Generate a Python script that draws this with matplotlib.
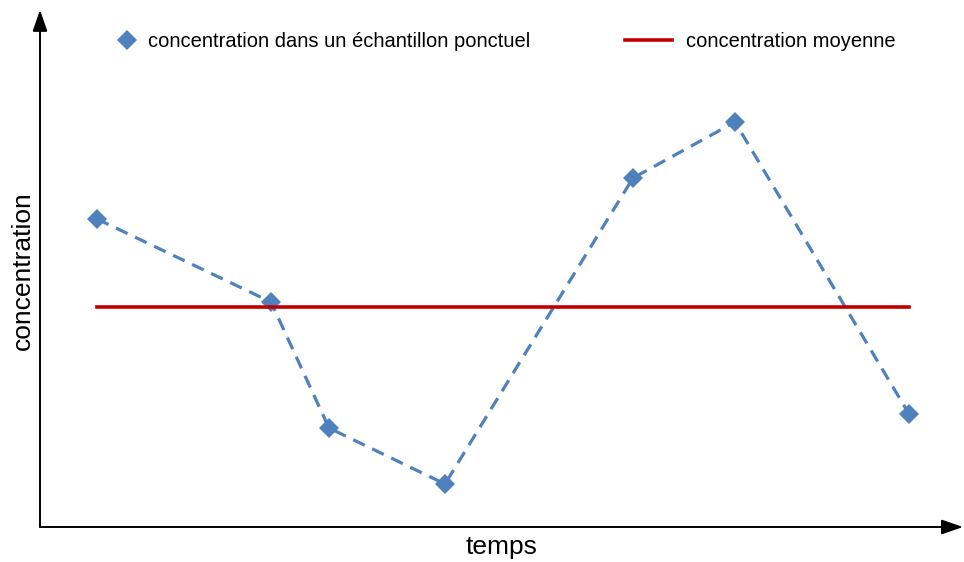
import numpy as np
from matplotlib import pyplot as plt
from matplotlib.lines import Line2D

# sample times and concentrations (arbitrary units)
temps = [0.57, 2.31, 2.89, 4.05, 5.93, 6.95, 8.69]
concentration = [3.08, 2.25, 0.99, 0.43, 3.49, 4.05, 1.13]
moyenne = 2.20
t_debut, t_fin = 0.57, 8.69

plt.rcParams['font.family'] = ['Liberation Sans', 'DejaVu Sans']

bleu = "#4F81BD"
rouge = "#C00000"

fig = plt.figure(figsize=(9.64, 5.62), dpi=100)
ax = fig.add_axes([40 / 964, 35 / 562, 923 / 964, 512 / 562])
ax.set_xlim(0, 9.23)
ax.set_ylim(0, 5.12)

ax.plot(temps, concentration, linestyle="--", color=bleu, lw=2.3,
        dashes=(4, 2.6), marker="D", ms=10.5, markeredgewidth=0)
ax.plot([t_debut, t_fin], [moyenne, moyenne], color=rouge, lw=2.6)

for s in ax.spines.values():
    s.set_visible(False)
ax.set_xticks([])
ax.set_yticks([])

# axes drawn as arrows
fleche = dict(arrowstyle="-|>,head_length=1.3,head_width=0.45",
              color="black", lw=1.4, shrinkA=0, shrinkB=0)
ax.annotate("", xy=(1.0, 0), xytext=(0, 0), xycoords="axes fraction",
            arrowprops=fleche)
ax.annotate("", xy=(0, 1.01), xytext=(0, 0), xycoords="axes fraction",
            arrowprops=fleche)

ax.set_xlabel("temps", fontsize=19, labelpad=6)
ax.set_ylabel("concentration", fontsize=19, labelpad=4)

# two legend entries, placed separately
h1 = Line2D([], [], linestyle="none", marker="D", ms=10.5, color=bleu,
            markeredgewidth=0)
h2 = Line2D([], [], color=rouge, lw=2.6)
leg1 = ax.legend([h1], ["concentration dans un échantillon ponctuel"],
                 loc="center left", bbox_to_anchor=(0.083, 0.949),
                 frameon=False, fontsize=14.5, handlelength=1.0,
                 handletextpad=0.55, borderpad=0, borderaxespad=0)
ax.add_artist(leg1)
ax.legend([h2], ["concentration moyenne"],
          loc="center left", bbox_to_anchor=(0.634, 0.949),
          frameon=False, fontsize=14.5, handlelength=2.34,
          handletextpad=0.7, borderpad=0, borderaxespad=0)

fig.savefig("out.png", dpi=100)
